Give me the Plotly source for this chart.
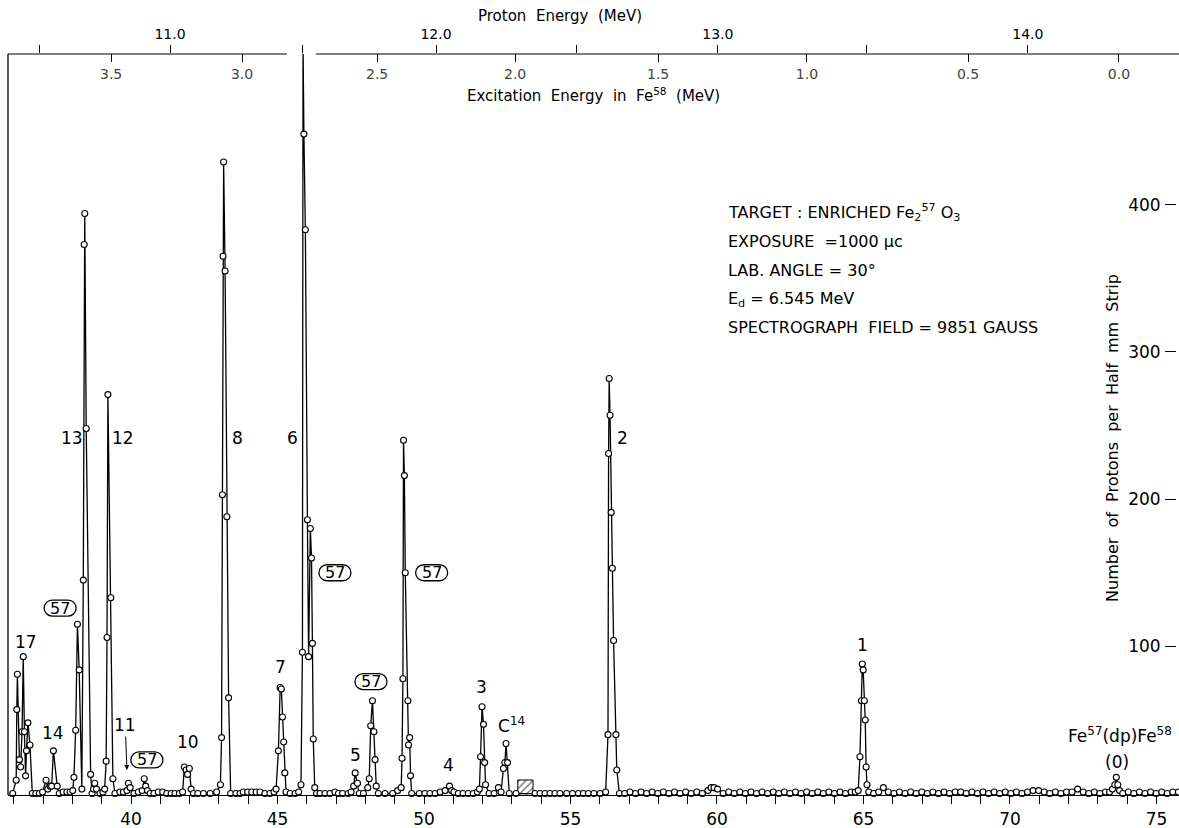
import plotly.graph_objects as go

# ---------------- data ----------------
# position along the plate (bottom scale) and proton counts per half-mm strip
strip_position = [
    35.96, 36.08, 36.10, 36.12, 36.19, 36.23, 36.28, 36.32, 36.36, 36.40, 36.43, 36.48, 36.55, 36.63,
    36.75, 36.87, 36.98,
    37.10, 37.16, 37.24, 37.29, 37.35, 37.48, 37.55, 37.68, 37.81, 37.92, 38.01,
    38.05, 38.11, 38.17, 38.23, 38.32,
    38.37, 38.40, 38.42, 38.47, 38.62, 38.67, 38.72, 38.76, 38.82, 38.94, 39.04,
    39.10, 39.15, 39.18, 39.21, 39.31, 39.38, 39.45, 39.62, 39.74, 39.86,
    39.91, 39.97, 40.10, 40.25, 40.38,
    40.45, 40.50, 40.56, 40.65, 40.78, 40.93, 41.08, 41.22, 41.37, 41.50, 41.65, 41.76,
    41.82, 41.88, 41.93, 41.99, 42.05, 42.13, 42.28, 42.47, 42.70, 42.92,
    43.05, 43.09, 43.12, 43.14, 43.16, 43.21, 43.27, 43.33, 43.40,
    43.58, 43.72, 43.83, 43.98, 44.12, 44.27, 44.40, 44.57, 44.74, 44.88,
    44.95, 45.03, 45.09, 45.13, 45.17, 45.21, 45.25, 45.29, 45.43, 45.60, 45.72,
    45.80, 45.85, 45.87, 45.90, 45.95, 46.02, 46.06, 46.12, 46.16, 46.19, 46.22, 46.27, 46.33,
    46.45, 46.62, 46.79, 46.96, 47.08, 47.22, 47.41,
    47.51, 47.60, 47.65, 47.73, 47.79, 47.93,
    48.08, 48.13, 48.18, 48.24, 48.29, 48.33, 48.37, 48.44, 48.67, 48.93, 49.10,
    49.22, 49.25, 49.28, 49.30, 49.33, 49.36, 49.45, 49.47, 49.51, 49.54, 49.58,
    49.84, 50.03, 50.20, 50.38, 50.55,
    50.72, 50.87, 50.94, 51.02, 51.17, 51.33, 51.51, 51.68, 51.82,
    51.89, 51.93, 51.98, 52.03, 52.07, 52.10, 52.22, 52.39, 52.54, 52.63,
    52.71, 52.76, 52.80, 52.85, 52.91, 53.14,
    53.79, 53.96, 54.13, 54.30, 54.47, 54.64, 54.87, 55.07, 55.27, 55.44, 55.61, 55.80, 56.01,
    56.20, 56.28, 56.30, 56.32, 56.35, 56.39, 56.43, 56.47, 56.55, 56.58, 56.67,
    56.85, 57.03, 57.22, 57.41, 57.60, 57.79, 57.98, 58.17, 58.36, 58.55, 58.74, 58.93, 59.12,
    59.31, 59.50, 59.69, 59.80, 59.90, 60.02, 60.21, 60.40, 60.59, 60.78, 60.97, 61.16, 61.35,
    61.54, 61.73, 61.92, 62.11, 62.30, 62.49, 62.68, 62.87, 63.06, 63.25, 63.44, 63.63, 63.82,
    64.01, 64.20, 64.39, 64.58, 64.72,
    64.82, 64.88, 64.93, 64.96, 64.99, 65.03, 65.06, 65.09, 65.12, 65.18,
    65.35, 65.52, 65.68, 65.85, 66.04, 66.23, 66.42, 66.61, 66.80, 66.99, 67.18, 67.37, 67.56,
    67.75, 67.94, 68.13, 68.32, 68.51, 68.70, 68.89, 69.08, 69.27, 69.46, 69.65, 69.84, 70.03,
    70.22, 70.41, 70.60, 70.79, 70.98, 71.17, 71.36, 71.55, 71.74, 71.93, 72.12, 72.31, 72.50,
    72.69, 72.88, 73.07, 73.26, 73.40,
    73.50, 73.58, 73.63, 73.68, 73.74,
    73.85, 74.04, 74.23, 74.42, 74.61, 74.80, 74.99, 75.18, 75.37, 75.56, 75.75,
]
proton_counts = [
    0, 9, 57, 81, 23, 18, 42, 93, 42, 12, 29, 48, 33, 0,
    0, 0, 1,
    9, 3, 5, 5, 29, 5, 0, 1, 1, 1, 2,
    11, 43, 115, 84, 3,
    145, 373, 394, 248, 13, 0, 3, 7, 3, 0, 1,
    3, 22, 106, 271, 133, 10, 0, 1, 1, 2,
    7, 4, 0, 1, 2,
    10, 5, 2, 0, 0, 1, 1, 0, 0, 0, 0, 1,
    18, 16, 13, 17, 3, 0, 0, 0, 0, 1,
    6, 38, 203, 365, 429, 355, 188, 65, 0,
    0, 0, 1, 1, 1, 1, 1, 0, 0, 1,
    3, 29, 72, 71, 52, 35, 14, 1, 0, 0, 1,
    6, 96, 510, 448, 383, 186, 93, 180, 160, 102, 37, 4, 0,
    0, 0, 0, 1, 0, 0, 0,
    1, 5, 14, 7, 0, 0,
    4, 10, 46, 63, 42, 23, 5, 0, 0, 0, 2,
    4, 24, 78, 240, 216, 150, 63, 33, 38, 12, 0,
    0, 0, 0, 0, 1,
    2, 5, 2, 1, 0, 0, 0, 0, 1,
    3, 25, 59, 47, 21, 6, 0, 0, 4, 1,
    17, 21, 34, 21, 0, 0,
    0, 0, 0, 0, 0, 0, 0, 0, 0, 0, 0, 0, 0,
    1, 40, 231, 282, 257, 191, 153, 104, 40, 16, 0,
    0, 1, 0, 1, 0, 1, 0, 1, 0, 1, 0, 1, 0,
    1, 0, 2, 4, 4, 3, 0, 1, 0, 1, 0, 1, 0,
    1, 0, 1, 0, 1, 0, 1, 0, 1, 0, 1, 0, 1,
    0, 1, 0, 1, 1,
    2, 25, 63, 88, 84, 63, 50, 18, 6, 1,
    0, 1, 4, 1, 0, 1, 0, 1, 0, 1, 0, 1, 0,
    1, 0, 1, 1, 0, 1, 0, 1, 0, 1, 0, 1, 0,
    1, 0, 1, 2, 2, 1, 0, 1, 0, 1, 1, 3, 1,
    0, 1, 0, 1, 1,
    3, 6, 11, 6, 2,
    0, 1, 0, 1, 0, 1, 0, 1, 0, 1, 1,
]

# hatched (excluded) strip region on the plate
hatch_start, hatch_end, hatch_bottom, hatch_top = 53.20, 53.72, -3.0, 9.2

# axes
bottom_tick_vals = [40, 45, 50, 55, 60, 65, 70, 75]
proton_label_pos = [41.33, 50.41, 60.03, 70.61]
proton_label_text = ["11.0", "12.0", "13.0", "14.0"]
proton_half_pos = [36.89, 45.84, 55.19, 65.12]          # unlabelled half-MeV ticks
excitation_tick_pos = [39.32, 43.79, 48.40, 53.11, 57.99, 63.07, 68.57, 73.72]
excitation_tick_text = ["3.5", "3.0", "2.5", "2.0", "1.5", "1.0", "0.5", "0.0"]
count_tick_vals = [100, 200, 300, 400]
X_RANGE = [35.80, 75.77]
Y_RANGE = [-1.0, 502.4]
top_axis_gap = (45.32, 46.31)   # the top scale line is broken where peak 6 passes through

# level labels (text, x, y)
level_labels = [
    ("17", 36.42, 103), ("14", 37.34, 41), ("13", 37.98, 241.5), ("12", 39.72, 241.5),
    ("10", 41.93, 35), ("8", 43.62, 241.5), ("6", 45.52, 241.5), ("7", 45.09, 86),
    ("5", 47.65, 26), ("4", 50.85, 19.4), ("3", 51.97, 72.4), ("C<sup>14</sup>", 52.97, 46.5),
    ("2", 56.79, 241.5), ("1", 64.95, 101), ("(0)", 73.65, 21.4),
    ("Fe<sup>57</sup>(dp)Fe<sup>58</sup>", 73.75, 39.8),
]
# Fe57 contaminant groups (circled "57")
fe57_labels = [(37.58, 126), (40.54, 22.8), (46.96, 150), (50.26, 150), (48.19, 76)]

info_lines = [
    ("TARGET : ENRICHED Fe<sub>2</sub><sup>57</sup> O<sub>3</sub>", 395.0),
    ("EXPOSURE  =1000 \u03bcc", 375.3),
    ("LAB. ANGLE = 30\u00b0", 355.6),
    ("E<sub>d</sub> = 6.545 MeV", 335.9),
    ("SPECTROGRAPH  FIELD = 9851 GAUSS", 316.9),
]
info_x = 60.31

FONT = "DejaVu Sans"

fig = go.Figure()

fig.add_trace(go.Bar(
    x=[(hatch_start + hatch_end) / 2], y=[hatch_top - hatch_bottom], base=[hatch_bottom],
    width=[hatch_end - hatch_start], cliponaxis=False,
    marker=dict(color="white", line=dict(color="black", width=1),
                pattern=dict(shape="/", fgcolor="black", size=5, solidity=0.3)),
    showlegend=False, hoverinfo="skip",
))

fig.add_trace(go.Scatter(
    x=strip_position, y=proton_counts, mode="lines+markers",
    line=dict(color="black", width=1.3),
    marker=dict(symbol="circle", size=6, color="white", line=dict(color="black", width=1.1)),
    cliponaxis=False, showlegend=False,
))

# carriers for the two top scales
fig.add_trace(go.Scatter(x=[proton_label_pos[0]], y=[None], xaxis="x2", showlegend=False, hoverinfo="skip"))
fig.add_trace(go.Scatter(x=[excitation_tick_pos[1]], y=[None], xaxis="x3", showlegend=False, hoverinfo="skip"))

annotations = []
for txt, x, y in level_labels:
    annotations.append(dict(x=x, y=y, xref="x", yref="y", text=txt, showarrow=False,
                            xanchor="center", yanchor="middle",
                            font=dict(family=FONT, size=17, color="black")))

shapes = []
stadium = ("M -8,8 L 8,8 C 12.4,8 16,4.4 16,0 C 16,-4.4 12.4,-8 8,-8 L -8,-8 "
           "C -12.4,-8 -16,-4.4 -16,0 C -16,4.4 -12.4,8 -8,8 Z")
for x, y in fe57_labels:
    annotations.append(dict(x=x, y=y, xref="x", yref="y", text="57", showarrow=False,
                            xanchor="center", yanchor="middle",
                            font=dict(family=FONT, size=16, color="black")))
    shapes.append(dict(type="path", xref="x", yref="y", xsizemode="pixel", ysizemode="pixel",
                       xanchor=x, yanchor=y, path=stadium, line=dict(color="black", width=1.3)))

annotations.append(dict(x=39.86, y=16, ax=39.80, ay=46.5, xref="x", yref="y", axref="x", ayref="y",
                        text="11", showarrow=True, arrowhead=2, arrowsize=1, arrowwidth=1,
                        arrowcolor="black", font=dict(family=FONT, size=17, color="black")))

for txt, y in info_lines:
    annotations.append(dict(x=info_x, y=y, xref="x", yref="y", text=txt, showarrow=False,
                            xanchor="left", yanchor="middle",
                            font=dict(family=FONT, size=16, color="black")))

annotations.append(dict(x=54.64, y=1.0513, xref="x", yref="paper", text="Proton  Energy  (MeV)",
                        showarrow=False, xanchor="center", yanchor="middle",
                        font=dict(family=FONT, size=15, color="black")))
annotations.append(dict(x=55.77, y=474.5, xref="x", yref="y",
                        text="Excitation  Energy  in  Fe<sup>58</sup>  (MeV)",
                        showarrow=False, xanchor="center", yanchor="middle",
                        font=dict(family=FONT, size=15, color="black")))
annotations.append(dict(x=73.48, y=241.5, xref="x", yref="y",
                        text="Number  of  Protons  per  Half  mm  Strip", textangle=-90,
                        showarrow=False, xanchor="center", yanchor="middle",
                        font=dict(family=FONT, size=16, color="black")))

# left frame line
shapes.append(dict(type="line", xref="paper", yref="paper", x0=0, x1=0, y0=0, y1=1,
                   line=dict(color="black", width=1.3)))
# top scale line, broken around peak 6
shapes.append(dict(type="line", xref="x", yref="paper", x0=X_RANGE[0], x1=top_axis_gap[0],
                   y0=1, y1=1, line=dict(color="black", width=1.2)))
shapes.append(dict(type="line", xref="x", yref="paper", x0=top_axis_gap[1], x1=X_RANGE[1],
                   y0=1, y1=1, line=dict(color="black", width=1.2)))

axis_common = dict(range=X_RANGE, showgrid=False, zeroline=False)

fig.update_layout(
    width=1179, height=828,
    margin=dict(l=8, r=0, t=54, b=33),
    paper_bgcolor="white", plot_bgcolor="white",
    font=dict(family=FONT, color="black"),
    barmode="overlay",
    xaxis=dict(**axis_common, tickmode="array", tickvals=bottom_tick_vals,
               ticks="outside", ticklen=8, tickwidth=1, tickcolor="black",
               showline=True, linecolor="black", linewidth=1.2,
               ticklabeloverflow="allow",
               minor=dict(tickmode="linear", tick0=0, dtick=1, ticks="outside",
                          ticklen=8, tickwidth=1, tickcolor="black"),
               tickfont=dict(family=FONT, size=17)),
    xaxis2=dict(**axis_common, overlaying="x", side="top", anchor="y",
                tickmode="array", tickvals=proton_label_pos, ticktext=proton_label_text,
                ticks="outside", ticklen=8, tickwidth=1, tickcolor="black",
                minor=dict(tickmode="array", tickvals=proton_half_pos, ticks="outside",
                           ticklen=8, tickwidth=1, tickcolor="black"),
                showline=False,
                tickfont=dict(family=FONT, size=14)),
    xaxis3=dict(**axis_common, overlaying="x", side="top", anchor="y",
                tickmode="array", tickvals=excitation_tick_pos, ticktext=excitation_tick_text,
                ticks="inside", ticklen=8, tickwidth=1, tickcolor="black",
                ticklabelposition="inside", ticklabelstandoff=7, showline=False,
                tickfont=dict(family=FONT, size=14)),
    yaxis=dict(range=Y_RANGE, side="left", anchor="free", position=0.9975,
               tickmode="array", tickvals=count_tick_vals,
               ticks="outside", ticklen=11, tickwidth=1, tickcolor="black",
               showline=False, showgrid=False, zeroline=False,
               ticklabelstandoff=1,
               tickfont=dict(family=FONT, size=17)),
    annotations=annotations,
    shapes=shapes,
)

fig.write_html("out.html")
